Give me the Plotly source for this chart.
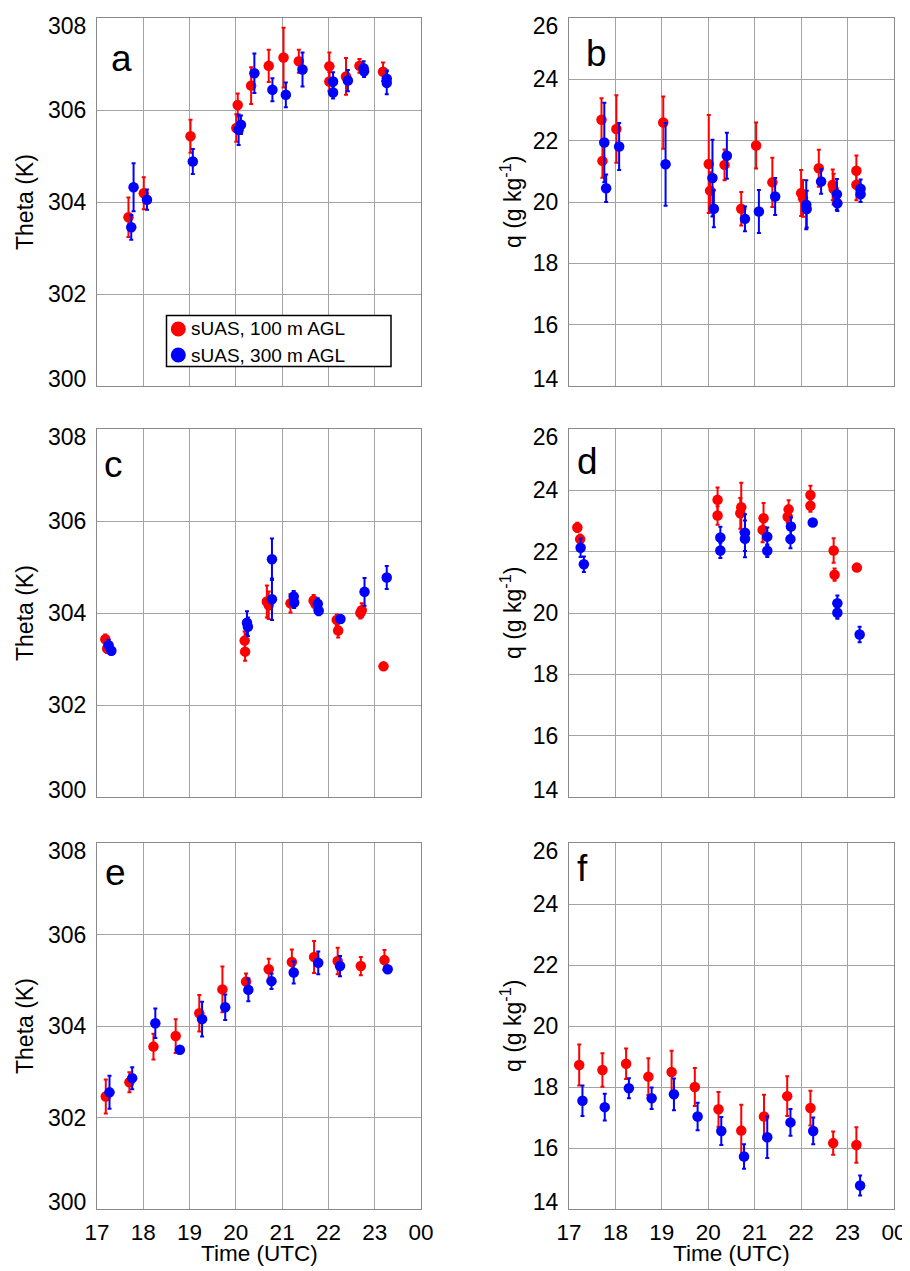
import plotly.graph_objects as go

# ---------------- data ----------------
# Panel a (theta)
a_red_t = [17.68, 18.01, 19.02, 20.01, 20.04, 20.33, 20.71, 21.03, 21.36, 22.02, 22.02, 22.38, 22.67, 23.18]
a_red_v = [303.67, 304.19, 305.43, 305.61, 306.11, 306.53, 306.96, 307.14, 307.06, 306.95, 306.62, 306.73, 306.96, 306.83]
a_red_e = [0.43, 0.35, 0.36, 0.30, 0.25, 0.40, 0.35, 0.65, 0.25, 0.30, 0.20, 0.40, 0.15, 0.20]
a_blue_t = [17.74, 17.79, 18.08, 19.07, 20.06, 20.11, 20.40, 20.79, 21.08, 21.44, 22.10, 22.10, 22.42, 22.76, 22.77, 23.26, 23.26]
a_blue_v = [303.45, 304.32, 304.05, 304.88, 305.57, 305.68, 306.80, 306.44, 306.33, 306.88, 306.62, 306.38, 306.64, 306.91, 306.84, 306.68, 306.59]
a_blue_e = [0.27, 0.52, 0.22, 0.27, 0.33, 0.20, 0.43, 0.25, 0.27, 0.37, 0.20, 0.13, 0.23, 0.15, 0.12, 0.18, 0.25]

# Panel b (q)
b_red_t = [17.70, 17.72, 18.02, 19.03, 20.01, 20.04, 20.35, 20.71, 21.03, 21.38, 22.00, 22.04, 22.38, 22.68, 22.70, 23.19, 23.19]
b_red_v = [22.68, 21.34, 22.38, 22.59, 21.24, 20.37, 21.21, 19.78, 21.84, 20.64, 20.29, 20.12, 21.10, 20.56, 20.42, 21.02, 20.56]
b_red_e = [0.70, 0.55, 1.10, 0.85, 1.60, 0.60, 0.50, 0.55, 0.75, 0.80, 0.75, 0.60, 0.60, 0.50, 0.50, 0.50, 0.50]
b_blue_t = [17.76, 17.80, 18.08, 19.08, 20.09, 20.12, 20.40, 20.79, 21.09, 21.44, 22.11, 22.12, 22.43, 22.77, 22.78, 23.28, 23.28]
b_blue_v = [21.94, 20.45, 21.81, 21.23, 20.78, 19.78, 21.51, 19.45, 19.69, 20.18, 19.91, 19.77, 20.67, 20.25, 19.96, 20.43, 20.25]
b_blue_e = [1.30, 0.45, 0.77, 1.35, 1.25, 0.60, 0.75, 0.40, 0.70, 0.60, 0.80, 0.60, 0.40, 0.50, 0.25, 0.30, 0.25]

# Panel c (theta)
c_red_t = [17.18, 17.22, 20.19, 20.20, 20.67, 20.71, 21.18, 21.68, 21.72, 22.18, 22.21, 22.69, 22.72, 23.19]
c_red_v = [303.43, 303.23, 303.40, 303.16, 304.25, 304.17, 304.21, 304.27, 304.19, 303.85, 303.62, 304.00, 304.06, 302.84]
c_red_e = [0.10, 0.10, 0.20, 0.20, 0.35, 0.30, 0.20, 0.12, 0.12, 0.12, 0.15, 0.12, 0.15, 0.00]
c_blue_t = [17.25, 17.31, 20.24, 20.26, 20.78, 20.78, 21.25, 21.26, 21.77, 21.79, 22.26, 22.78, 23.26]
c_blue_v = [303.30, 303.18, 303.79, 303.70, 305.17, 304.30, 304.36, 304.23, 304.20, 304.05, 303.87, 304.46, 304.77]
c_blue_e = [0.12, 0.08, 0.25, 0.20, 0.45, 0.45, 0.12, 0.12, 0.12, 0.10, 0.08, 0.30, 0.25]

# Panel d (q)
d_red_t = [17.18, 17.24, 20.20, 20.20, 20.71, 20.69, 21.19, 21.17, 21.73, 21.71, 22.20, 22.20, 22.70, 22.72, 23.20]
d_red_v = [22.79, 22.41, 23.69, 23.18, 23.45, 23.25, 23.09, 22.71, 23.38, 23.14, 23.85, 23.50, 22.04, 21.25, 21.48]
d_red_e = [0.15, 0.15, 0.40, 0.30, 0.80, 0.50, 0.50, 0.40, 0.30, 0.20, 0.30, 0.20, 0.40, 0.20, 0.10]
d_blue_t = [17.25, 17.32, 20.26, 20.26, 20.79, 20.79, 21.27, 21.27, 21.78, 21.77, 22.25, 22.78, 22.78, 23.26]
d_blue_v = [22.13, 21.59, 22.46, 22.04, 22.62, 22.42, 22.49, 22.03, 22.82, 22.41, 22.95, 20.32, 20.01, 19.30]
d_blue_e = [0.30, 0.25, 0.35, 0.25, 0.60, 0.60, 0.30, 0.20, 0.30, 0.30, 0.10, 0.25, 0.20, 0.25]

# Panel e (theta)
e_red_t = [17.19, 17.70, 18.22, 18.70, 19.21, 19.71, 20.22, 20.71, 21.21, 21.69, 22.20, 22.70, 23.21]
e_red_v = [302.46, 302.77, 303.55, 303.78, 304.28, 304.80, 304.97, 305.24, 305.40, 305.51, 305.42, 305.31, 305.44]
e_red_e = [0.37, 0.22, 0.28, 0.37, 0.40, 0.50, 0.18, 0.23, 0.27, 0.35, 0.29, 0.20, 0.22]
e_blue_t = [17.27, 17.76, 18.26, 18.79, 19.27, 19.77, 20.27, 20.77, 21.25, 21.78, 22.25, 23.28]
e_blue_v = [302.55, 302.86, 304.06, 303.48, 304.15, 304.41, 304.79, 304.98, 305.17, 305.38, 305.31, 305.24]
e_blue_e = [0.36, 0.24, 0.32, 0.08, 0.38, 0.28, 0.25, 0.17, 0.24, 0.25, 0.22, 0.05]

# Panel f (q)
f_red_t = [17.22, 17.72, 18.23, 18.71, 19.21, 19.71, 20.22, 20.71, 21.20, 21.70, 22.20, 22.69, 23.19]
f_red_v = [18.72, 18.56, 18.76, 18.34, 18.49, 18.00, 17.27, 16.57, 17.03, 17.70, 17.31, 16.16, 16.10]
f_red_e = [0.67, 0.55, 0.50, 0.60, 0.70, 0.62, 0.57, 0.85, 0.72, 0.65, 0.57, 0.38, 0.58]
f_blue_t = [17.29, 17.77, 18.29, 18.78, 19.26, 19.77, 20.28, 20.77, 21.27, 21.77, 22.26, 23.27]
f_blue_v = [17.55, 17.34, 17.96, 17.63, 17.76, 17.03, 16.56, 15.72, 16.35, 16.84, 16.56, 14.77]
f_blue_e = [0.50, 0.44, 0.33, 0.35, 0.52, 0.45, 0.46, 0.40, 0.68, 0.44, 0.44, 0.33]

panel_letters = ["a", "b", "c", "d", "e", "f"]
x_tickvals = [17, 18, 19, 20, 21, 22, 23, 24]
x_ticktext = ["17", "18", "19", "20", "21", "22", "23", "00"]
theta_ticks = [300, 302, 304, 306, 308]
q_ticks = [14, 16, 18, 20, 22, 24, 26]
series_names = ["sUAS, 100 m AGL", "sUAS, 300 m AGL"]
theta_title = "Theta (K)"
q_title = "q (g kg<sup>-1</sup>)"
time_title = "Time (UTC)"

panels = [
    (a_red_t, a_red_v, a_red_e, a_blue_t, a_blue_v, a_blue_e),
    (b_red_t, b_red_v, b_red_e, b_blue_t, b_blue_v, b_blue_e),
    (c_red_t, c_red_v, c_red_e, c_blue_t, c_blue_v, c_blue_e),
    (d_red_t, d_red_v, d_red_e, d_blue_t, d_blue_v, d_blue_e),
    (e_red_t, e_red_v, e_red_e, e_blue_t, e_blue_v, e_blue_e),
    (f_red_t, f_red_v, f_red_e, f_blue_t, f_blue_v, f_blue_e),
]

# ---------------- layout ----------------
# The page body has an 8 px margin, so the figure is drawn 8 px in from the
# window's top-left corner; all pixel positions below are window positions.
OFF = 8
W, H = 910 - OFF, 1271 - OFF
col_px = [(97, 421), (569, 894)]
row_px = [(18, 386), (429, 797), (843, 1209)]
ytitle_dx = [72, 58]
letter_dx = [12, 15, 5, 6, 6, 6]      # px from plot left edge
letter_dy = [18, 13, 13, 10, 7, 3]    # px from plot top edge
END_LABEL_NUDGE_PX = 7.5              # end tick labels sit inside the frame
RED = "#ff0000"
BLUE = "#0000ff"
FONT = "Liberation Sans, Arial, Helvetica, sans-serif"
GRID = "#a3a3a3"
FRAME = "#8a8a8a"


def px(x):
    return (x - OFF) / W


def py(y):
    return 1 - (y - OFF) / H


fig = go.Figure()
layout = dict(
    width=W, height=H,
    margin=dict(l=0, r=0, t=0, b=0, pad=0, autoexpand=False),
    paper_bgcolor="white", plot_bgcolor="white",
    font=dict(family=FONT, size=22, color="black"),
    showlegend=False,
)
annotations = []
shapes = []

for i, (rt, rv, re_, bt, bv, be) in enumerate(panels):
    r, c = i // 2, i % 2
    ax = "" if i == 0 else str(i + 1)
    xref, yref = "x" + ax, "y" + ax
    for t, v, e, col, name in [(rt, rv, re_, RED, series_names[0]), (bt, bv, be, BLUE, series_names[1])]:
        fig.add_trace(go.Scatter(
            x=t, y=v, mode="markers", name=name,
            marker=dict(color=col, size=10.5, line=dict(width=0)),
            error_y=dict(type="data", array=e, visible=True, color=col, thickness=2, width=2),
            xaxis=xref, yaxis=yref,
        ))
    x0, x1 = col_px[c]
    y0, y1 = row_px[r]
    is_theta = (c == 0)
    yt = theta_ticks if is_theta else q_ticks
    ymin, ymax = yt[0], yt[-1]
    nudge = END_LABEL_NUDGE_PX * (ymax - ymin) / (y1 - y0)
    label_pos = [ymin + nudge] + yt[1:-1] + [ymax - nudge]
    layout["xaxis" + ax] = dict(
        domain=[px(x0), px(x1)], range=[17, 24], anchor=yref, automargin=False,
        tickvals=x_tickvals, ticktext=x_ticktext, ticklabeloverflow="allow",
        showticklabels=(r == 2), ticks="outside", ticklen=3, tickcolor="rgba(0,0,0,0)",
        showgrid=True, gridcolor=GRID, gridwidth=1, zeroline=False,
        showline=True, linecolor=FRAME, linewidth=1, mirror=True,
        tickfont=dict(size=22.5, family=FONT),
    )
    layout["yaxis" + ax] = dict(
        domain=[py(y1), py(y0)], automargin=False,
        range=[ymin, ymax], anchor=xref,
        tickvals=label_pos, ticktext=[str(v) for v in yt], ticklabeloverflow="allow",
        ticks="outside", ticklen=5, tickcolor="rgba(0,0,0,0)",
        showgrid=False, zeroline=False,
        minor=dict(tickvals=yt, showgrid=True, gridcolor=GRID, gridwidth=1, ticks=""),
        showline=True, linecolor=FRAME, linewidth=1, mirror=True,
        tickfont=dict(size=23, family=FONT),
    )
    # y-axis title
    annotations.append(dict(
        text=theta_title if is_theta else q_title,
        xref="paper", yref="paper",
        x=px(x0 - ytitle_dx[c]), y=py((y0 + y1) / 2),
        xanchor="center", yanchor="middle", textangle=-90, showarrow=False,
        font=dict(size=23, family=FONT),
    ))
    # panel letter
    annotations.append(dict(
        text=panel_letters[i], xref="paper", yref="paper",
        x=px(x0 + letter_dx[i]), y=py(y0 + letter_dy[i]),
        xanchor="left", yanchor="top", showarrow=False,
        font=dict(size=37, family=FONT),
    ))
    if r == 2:
        annotations.append(dict(
            text=time_title, xref="paper", yref="paper",
            x=px((x0 + x1) / 2), y=py(1253), xanchor="center", yanchor="middle",
            showarrow=False, font=dict(size=22.5, family=FONT),
        ))

# legend box drawn in panel a (window pixel positions)
leg_box = (166.5, 315.5, 391, 366.5)
leg_rows = [329, 355]
shapes.append(dict(type="rect", xref="paper", yref="paper",
                   x0=px(leg_box[0]), x1=px(leg_box[2]), y0=py(leg_box[3]), y1=py(leg_box[1]),
                   line=dict(color="black", width=1.5), fillcolor="white", layer="above"))
for yy, col, name in zip(leg_rows, [RED, BLUE], series_names):
    shapes.append(dict(type="circle", xref="paper", yref="paper",
                       x0=px(178.3 - 7.5), x1=px(178.3 + 7.5), y0=py(yy + 7.5), y1=py(yy - 7.5),
                       line=dict(width=0), fillcolor=col, layer="above"))
    annotations.append(dict(
        text=name, xref="paper", yref="paper", x=px(188.5), y=py(yy),
        xanchor="left", yanchor="middle", showarrow=False,
        font=dict(size=19, family=FONT),
    ))

layout["annotations"] = annotations
layout["shapes"] = shapes
fig.update_layout(**layout)
fig.write_html("out.html")
